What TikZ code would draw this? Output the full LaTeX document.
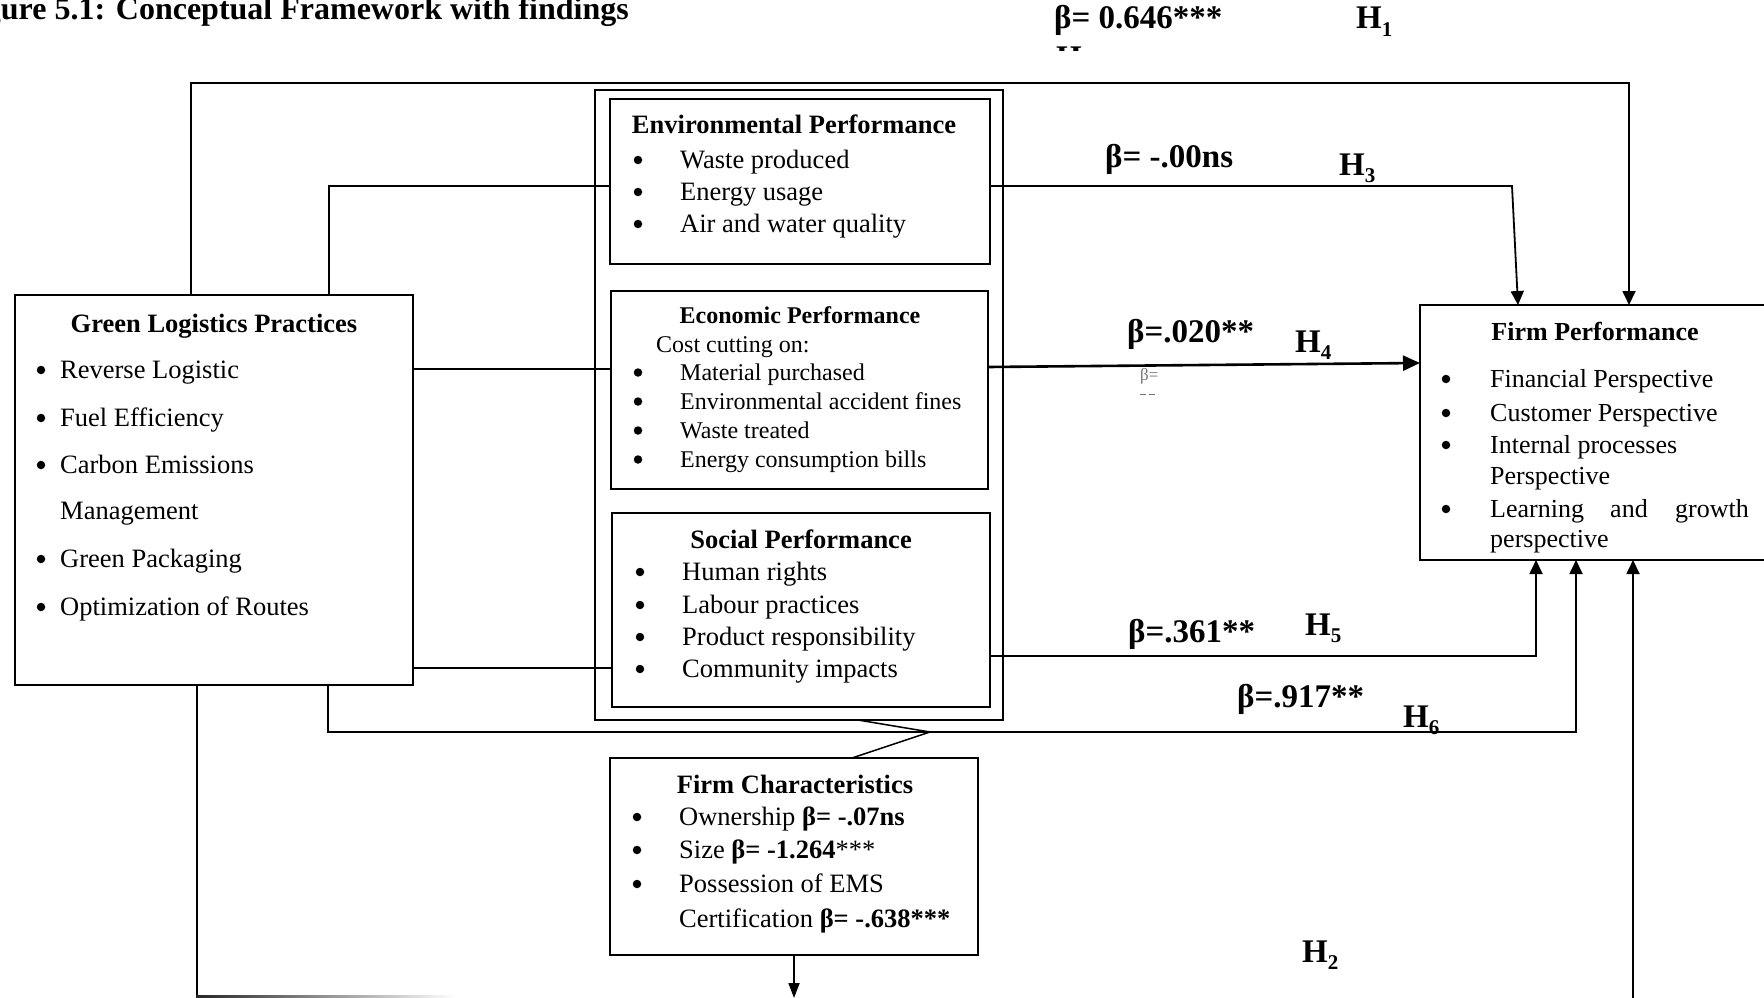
\documentclass[tikz,border=0pt]{standalone}
\usepackage{fontspec}
\setmainfont{Liberation Serif}
\usetikzlibrary{arrows.meta}

\newcommand\bodyfnt{\fontsize{26.5}{30}\selectfont}
\newcommand\econfnt{\fontsize{24}{28}\selectfont}
\newcommand\fpfnt{\fontsize{26}{30}\selectfont}
\newcommand\lblfnt{\fontsize{33}{36}\selectfont\bfseries}
\newcommand\hsub[1]{\raisebox{-0.22em}{\fontsize{21}{21}\selectfont #1}}

\tikzset{
  box/.style={draw, line width=1.8pt, inner sep=0pt, outer sep=0pt, anchor=north west},
  ttl/.style={inner sep=0pt, anchor=base, font=\bodyfnt\bfseries},
  txt/.style={inner sep=0pt, anchor=base west, font=\bodyfnt},
  bul/.style={circle, fill, inner sep=0pt, minimum size=8.5pt, yshift=8pt},
  lbl/.style={inner sep=0pt, anchor=base west, font=\lblfnt},
  conn/.style={line width=1.8pt},
  arr/.style={conn, -{Triangle[length=14pt,width=13pt]}},
}

\begin{document}
\begin{tikzpicture}[x=1pt, y=-1pt]
\useasboundingbox (0,0) rectangle (1764,998);
\fill[white] (0,0) rectangle (1764,998);
\clip (0,0) rectangle (1764,998);

% heading, running off the left edge
\node[inner sep=0pt, anchor=base east, font=\fontsize{32}{36}\selectfont\bfseries] (title) at (629,20) {Figure 5.1: Conceptual Framework with findings};

% ---------- boxes ----------
\node[box, minimum width=398pt, minimum height=390pt] (glp)  at (15,295)  {};
\node[box, minimum width=408pt, minimum height=630pt] (mid)  at (595,90)  {};
\node[box, minimum width=380pt, minimum height=165pt] (env)  at (610,99)  {};
\node[box, minimum width=377pt, minimum height=198pt] (econ) at (611,291) {};
\node[box, minimum width=378pt, minimum height=194pt] (soc)  at (612,513) {};
\node[box, minimum width=368pt, minimum height=197pt] (fc)   at (610,758) {};
\node[box, minimum width=349pt, minimum height=255pt] (fp)   at (1420,305) {};

% ---------- Green Logistics Practices ----------
\node[ttl] (glp-t) at (214,332) {Green Logistics Practices};
\node[bul] (glp-b1) at (41,378) {};
\node[txt] (glp-1) at (60,378) {Reverse Logistic};
\node[bul] (glp-b2) at (41,426) {};
\node[txt] (glp-2) at (60,426) {Fuel Efficiency};
\node[bul] (glp-b3) at (41,473) {};
\node[txt] (glp-3) at (60,473) {Carbon Emissions};
\node[txt] (glp-3b) at (60,519) {Management};
\node[bul] (glp-b4) at (41,567) {};
\node[txt] (glp-4) at (60,567) {Green Packaging};
\node[bul] (glp-b5) at (41,615) {};
\node[txt] (glp-5) at (60,615) {Optimization of Routes};

% ---------- Environmental Performance ----------
\node[ttl] (env-t) at (794,133) {Environmental Performance};
\node[bul] (env-b1) at (638,168) {};
\node[txt] (env-1) at (680,168) {Waste produced};
\node[bul] (env-b2) at (638,200) {};
\node[txt] (env-2) at (680,200) {Energy usage};
\node[bul] (env-b3) at (638,232) {};
\node[txt] (env-3) at (680,232) {Air and water quality};

% ---------- Economic Performance ----------
\node[ttl, font=\econfnt\bfseries] (econ-t) at (800,323) {Economic Performance};
\node[txt, font=\econfnt] (econ-0) at (656,352) {Cost cutting on:};
\node[bul, yshift=-0.5pt] (econ-b1) at (638,380) {};
\node[txt, font=\econfnt] (econ-1) at (680,380) {Material purchased};
\node[bul, yshift=-0.5pt] (econ-b2) at (638,409) {};
\node[txt, font=\econfnt] (econ-2) at (680,409) {Environmental accident fines};
\node[bul, yshift=-0.5pt] (econ-b3) at (638,438) {};
\node[txt, font=\econfnt] (econ-3) at (680,438) {Waste treated};
\node[bul, yshift=-0.5pt] (econ-b4) at (638,467) {};
\node[txt, font=\econfnt] (econ-4) at (680,467) {Energy consumption bills};

% ---------- Social Performance ----------
\node[ttl] (soc-t) at (801,548) {Social Performance};
\node[bul] (soc-b1) at (640,580) {};
\node[txt] (soc-1) at (682,580) {Human rights};
\node[bul] (soc-b2) at (640,613) {};
\node[txt] (soc-2) at (682,613) {Labour practices};
\node[bul] (soc-b3) at (640,645) {};
\node[txt] (soc-3) at (682,645) {Product responsibility};
\node[bul] (soc-b4) at (640,677) {};
\node[txt] (soc-4) at (682,677) {Community impacts};

% ---------- Firm Characteristics ----------
\node[ttl] (fc-t) at (795,793) {Firm Characteristics};
\node[bul] (fc-b1) at (637,825) {};
\node[txt] (fc-1) at (679,825) {Ownership \textbf{β= -.07ns}};
\node[bul] (fc-b2) at (637,858) {};
\node[txt] (fc-2) at (679,858) {Size \textbf{β= -1.264}***};
\node[bul] (fc-b3) at (637,892) {};
\node[txt] (fc-3) at (679,892) {Possession of EMS};
\node[txt] (fc-3b) at (679,927) {Certification \textbf{β= -.638***}};

% ---------- Firm Performance ----------
\node[ttl, font=\fpfnt\bfseries] (fp-t) at (1595,340) {Firm Performance};
\node[bul] (fp-b1) at (1446,387) {};
\node[txt, font=\fpfnt] (fp-1) at (1490,387) {Financial Perspective};
\node[bul] (fp-b2) at (1446,421) {};
\node[txt, font=\fpfnt] (fp-2) at (1490,421) {Customer Perspective};
\node[bul] (fp-b3) at (1446,453) {};
\node[txt, font=\fpfnt] (fp-3) at (1490,453) {Internal processes};
\node[txt, font=\fpfnt] (fp-3b) at (1490,484) {Perspective};
\node[bul] (fp-b4) at (1446,517) {};
\node[txt, font=\fpfnt] (fp-4a) at (1490,517) {Learning};
\node[txt, font=\fpfnt] (fp-4b) at (1610,517) {and};
\node[txt, font=\fpfnt, anchor=base east] (fp-4c) at (1749,517) {growth};
\node[txt, font=\fpfnt] (fp-4d) at (1490,547) {perspective};

% ---------- connectors ----------
% H1: over the top into Firm Performance
\coordinate (k1) at (191,83);
\coordinate (k2) at (1629,83);
\draw[arr] (glp.north -| k1) -- (k1) -- (k2) -- (fp.north -| k2);

% Green Logistics Practices to the three dimensions
\coordinate (k3) at (329,186);
\draw[conn] (glp.north -| k3) |- (env.west |- k3);
\coordinate (k4) at (0,369);
\draw[conn] (glp.east |- k4) -- (econ.west |- k4);
\coordinate (k5) at (0,668);
\draw[conn] (glp.east |- k5) -- (soc.west |- k5);

% H6: under the middle block
\coordinate (k6) at (328,732);
\coordinate (k7) at (1576,732);
\draw[arr] (glp.south -| k6) -- (k6) -- (k7) -- (fp.south -| k7);

% H2: along the bottom edge
\coordinate (k8) at (197,996.5);
\draw[conn] (glp.south -| k8) -- (k8);
\shade[left color=black!85, right color=white] (196.1,995.6) rectangle (455,997.4);
\coordinate (k9) at (1633,1010);
\draw[arr] (k9) -- (fp.south -| k9);

% H3: environmental
\coordinate (k10) at (1512,186);
\coordinate (k11) at (1518,0);
\draw[arr] (env.east |- k10) -- (k10) -- (fp.north -| k11);

% H4: economic
\coordinate (k12) at (0,367);
\coordinate (k13) at (0,363);
\draw[line width=2.6pt, -{Triangle[length=17pt,width=15pt]}] (econ.east |- k12) -- (fp.west |- k13);

% H5: social
\coordinate (k14) at (1536,656);
\draw[arr] (soc.east |- k14) -- (k14) -- (fp.south -| k14);

% link between the dimensions block and the firm characteristics
\coordinate (k15) at (930,732);
\coordinate (k17) at (858,0);
\coordinate (k18) at (852,0);
\draw[line width=1.5pt] (mid.south -| k17) -- (k15) -- (fc.north -| k18);

% firm characteristics downward
\coordinate (k16) at (794,998);
\draw[conn, -{Triangle[length=15pt,width=11pt]}] (fc.south) -- (k16);

% ---------- coefficients and hypotheses ----------
\node[lbl] (b1) at (1054,29) {β= 0.646***};
\node[lbl] (h1) at (1356,29) {H\hsub{1}};
\begin{scope}
  \clip (1050,45) rectangle (1090,51);
  \node[lbl] (hcut) at (1056,69) {H};
\end{scope}
\node[lbl] (b3) at (1105,167) {β= -.00ns};
\node[lbl] (h3) at (1339,175) {H\hsub{3}};
\node[lbl] (b4) at (1127,342) {β=.020**};
\node[lbl] (h4) at (1295,352) {H\hsub{4}};
\node[inner sep=0pt, anchor=base west, font=\fontsize{17}{17}\selectfont, text=black!55] (b4s) at (1140,380) {β=};
\draw[black!55, line width=1pt] (1140,394) -- (1146,394) (1149,394) -- (1155,394);
\node[lbl] (b5) at (1128,642) {β=.361**};
\node[lbl] (h5) at (1305,635) {H\hsub{5}};
\node[lbl] (b6) at (1237,707) {β=.917**};
\node[lbl] (h6) at (1403,727) {H\hsub{6}};
\node[lbl] (h2) at (1302,962) {H\hsub{2}};
\end{tikzpicture}
\end{document}
